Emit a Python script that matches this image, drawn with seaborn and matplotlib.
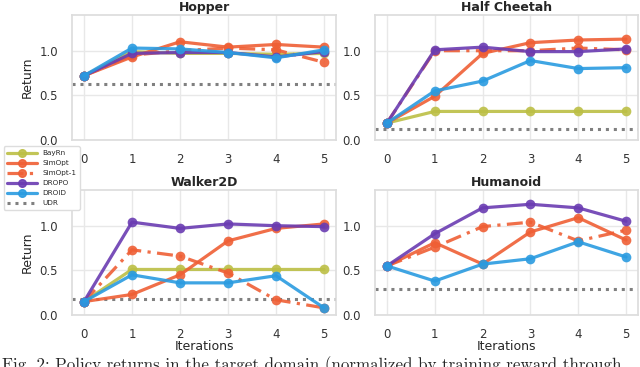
import numpy as np
import pandas as pd
import matplotlib
matplotlib.use("Agg")
import matplotlib.pyplot as plt
import seaborn as sns
from matplotlib.lines import Line2D

iterations = [0, 1, 2, 3, 4, 5]
envs = ["Hopper", "Half Cheetah", "Walker2D", "Humanoid"]
methods = ["BayRn", "SimOpt", "SimOpt-1", "DROPO", "DROID"]

hopper = {
    "BayRn":    [0.72, 0.99, 0.97, 0.97, 0.96, 0.97],
    "SimOpt":   [0.72, 0.93, 1.10, 1.04, 1.07, 1.04],
    "SimOpt-1": [0.72, 0.95, 1.00, 1.03, 1.01, 0.87],
    "DROPO":    [0.72, 0.97, 0.98, 0.98, 0.93, 0.99],
    "DROID":    [0.72, 1.03, 1.02, 0.98, 0.92, 1.01],
}
half_cheetah = {
    "BayRn":    [0.19, 0.32, 0.32, 0.32, 0.32, 0.32],
    "SimOpt":   [0.19, 0.49, 0.97, 1.09, 1.12, 1.13],
    "SimOpt-1": [0.19, 1.00, 1.00, 1.00, 1.03, 1.01],
    "DROPO":    [0.19, 1.01, 1.04, 0.99, 0.99, 1.02],
    "DROID":    [0.19, 0.55, 0.66, 0.89, 0.80, 0.81],
}
walker2d = {
    "BayRn":    [0.15, 0.51, 0.51, 0.51, 0.51, 0.51],
    "SimOpt":   [0.15, 0.23, 0.45, 0.83, 0.97, 1.02],
    "SimOpt-1": [0.15, 0.73, 0.66, 0.47, 0.17, 0.08],
    "DROPO":    [0.15, 1.04, 0.97, 1.02, 1.00, 0.99],
    "DROID":    [0.15, 0.45, 0.36, 0.36, 0.44, 0.08],
}
humanoid = {
    "SimOpt":   [0.55, 0.81, 0.57, 0.93, 1.09, 0.84],
    "SimOpt-1": [0.55, 0.76, 0.99, 1.04, 0.83, 0.95],
    "DROPO":    [0.55, 0.91, 1.20, 1.24, 1.20, 1.05],
    "DROID":    [0.55, 0.38, 0.57, 0.63, 0.82, 0.65],
}
udr = {"Hopper": 0.63, "Half Cheetah": 0.12, "Walker2D": 0.18, "Humanoid": 0.29}
env_data = {"Hopper": hopper, "Half Cheetah": half_cheetah,
            "Walker2D": walker2d, "Humanoid": humanoid}
caption = "Fig. 2: Policy returns in the target domain (normalized by training reward through"

colors = {"BayRn": "#bcbf45", "SimOpt": "#ef5f35", "SimOpt-1": "#ef5f35",
          "DROPO": "#6a3cb2", "DROID": "#2a9be0"}
styles = {"BayRn": "-", "SimOpt": "-", "SimOpt-1": (0, (5, 2, 1, 2)),
          "DROPO": "-", "DROID": "-"}

sns.set_theme(style="whitegrid")
plt.rcParams["font.family"] = ["DejaVu Sans"]
plt.rcParams["axes.edgecolor"] = "#dddddd"
plt.rcParams["grid.color"] = "#e8e8e8"

fig = plt.figure(figsize=(6.4, 3.67), dpi=100)
W, H = 640, 367
boxes = {
    "Hopper": (72, 15, 264, 125),
    "Half Cheetah": (375, 15, 263, 125),
    "Walker2D": (72, 190, 264, 125),
    "Humanoid": (375, 190, 263, 125),
}

for env in envs:
    x0, y0, w, h = boxes[env]
    ax = fig.add_axes([x0 / W, 1 - (y0 + h) / H, w / W, h / H])
    ax.axhline(udr[env], color="#808080", linestyle=(0, (1, 1.6)), linewidth=2.2, zorder=1)
    for m, vals in env_data[env].items():
        df = pd.DataFrame({"Iterations": iterations, "Return": vals})
        sns.lineplot(data=df, x="Iterations", y="Return", ax=ax, color=colors[m],
                     linestyle=styles[m], linewidth=2.3, marker="o", markersize=7,
                     markeredgewidth=0, alpha=0.9, zorder=3)
    ax.set_xlim(-0.25, 5.25)
    ax.set_ylim(0, 1.4)
    ax.set_xticks(iterations)
    ax.set_yticks([0.0, 0.5, 1.0])
    ax.set_yticklabels(["0.0", "0.5", "1.0"])
    ax.tick_params(axis="y", labelsize=8.5, pad=4, colors="#333333")
    ax.tick_params(axis="x", labelsize=8.5, pad=3, colors="#333333")
    ax.set_title(env, fontsize=9, fontweight="bold", pad=3, color="#262626")
    if env in ("Hopper", "Walker2D"):
        ax.set_ylabel("Return", fontsize=9, labelpad=4, color="#262626")
    else:
        ax.set_ylabel("")
    if env in ("Walker2D", "Humanoid"):
        ax.set_xlabel("Iterations", fontsize=9, labelpad=0, color="#262626")
    else:
        ax.set_xlabel("")
    for s in ax.spines.values():
        s.set_color("#dddddd")

leg_handles = [Line2D([], [], color=colors[m], linestyle=styles[m], linewidth=2.3,
                      marker="o", markersize=5.5, alpha=0.9) for m in methods]
leg_handles.append(Line2D([], [], color="#808080", linestyle=(0, (1, 1.6)), linewidth=2.2))
fig.legend(leg_handles, methods + ["UDR"], loc="upper left",
           bbox_to_anchor=(0.006, 0.601), fontsize=5.2, frameon=True,
           handlelength=4.1, handletextpad=0.7, labelspacing=0.55, borderpad=0.5,
           borderaxespad=0, edgecolor="#dddddd", framealpha=1)

fig.text(0.003, -3.5 / H, caption, fontsize=12.2, family="cmr10",
         va="baseline", ha="left")

fig.savefig("out.png", dpi=100)
